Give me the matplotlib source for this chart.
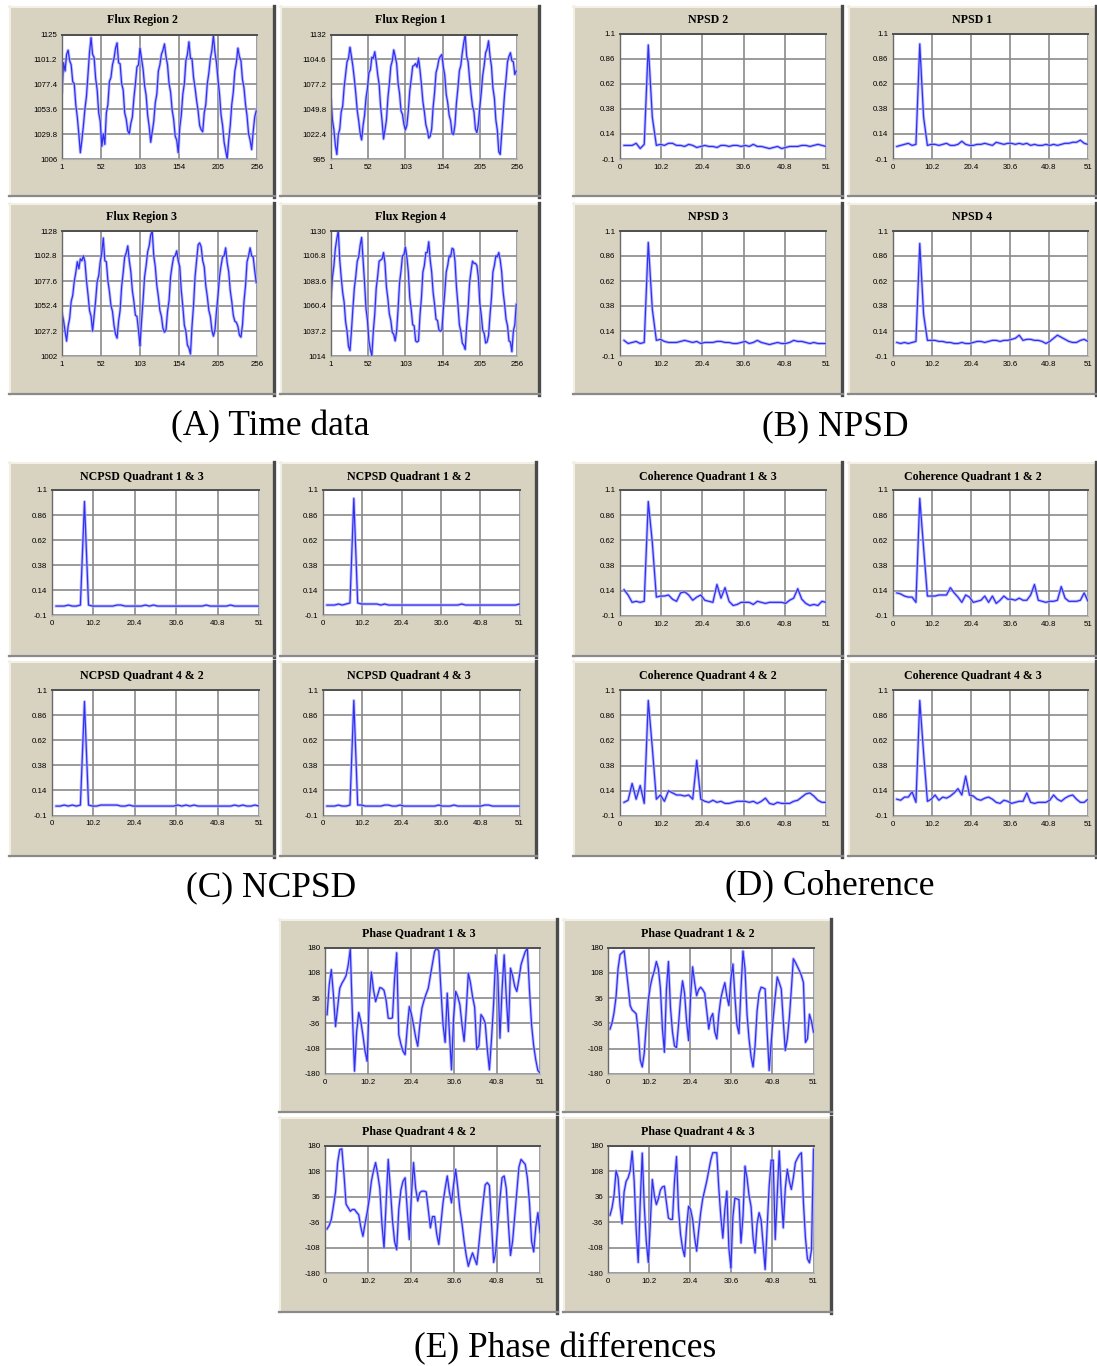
import numpy as np
import matplotlib
matplotlib.use('Agg')
import matplotlib.pyplot as plt
from matplotlib.patches import Rectangle
from matplotlib.lines import Line2D

# ---------------- DATA ----------------
time_xticks = [1, 52, 103, 154, 205, 256]
spec_xticks = [0, 10.2, 20.4, 30.6, 40.8, 51]
spec_xlabels = ['0', '10.2', '20.4', '30.6', '40.8', '51']
spec_yticks = [-0.1, 0.14, 0.38, 0.62, 0.86, 1.1]
spec_ylabels = ['-0.1', '0.14', '0.38', '0.62', '0.86', '1.1']
phase_yticks = [-180, -108, -36, 36, 108, 180]
phase_ylabels = ['-180', '-108', '-36', '36', '108', '180']

flux2_yticks = [1006, 1029.8, 1053.6, 1077.4, 1101.2, 1125]
flux1_yticks = [995, 1022.4, 1049.8, 1077.2, 1104.6, 1132]
flux3_yticks = [1002, 1027.2, 1052.4, 1077.6, 1102.8, 1128]
flux4_yticks = [1014, 1037.2, 1060.4, 1083.6, 1106.8, 1130]

flux2 = [1070, 1098, 1090, 1106, 1110, 1100, 1096, 1080, 1078, 1058, 1046, 1030, 1012, 1024, 1038, 1054,
         1066, 1087, 1108, 1122, 1106, 1103, 1083, 1072, 1050, 1042, 1018, 1030, 1020, 1050, 1058, 1080,
         1084, 1096, 1102, 1112, 1117, 1098, 1097, 1078, 1072, 1050, 1044, 1033, 1030, 1040, 1046, 1064,
         1078, 1094, 1096, 1112, 1102, 1092, 1076, 1067, 1048, 1037, 1022, 1032, 1042, 1060, 1068, 1090,
         1096, 1106, 1110, 1116, 1104, 1096, 1078, 1070, 1053, 1044, 1028, 1024, 1012, 1036, 1048, 1068,
         1078, 1100, 1106, 1118, 1102, 1102, 1084, 1074, 1062, 1052, 1038, 1034, 1032, 1050, 1058, 1078,
         1088, 1102, 1110, 1124, 1108, 1098, 1082, 1068, 1048, 1038, 1022, 1014, 1006, 1024, 1038, 1058,
         1070, 1090, 1098, 1112, 1104, 1100, 1082, 1074, 1058, 1047, 1030, 1024, 1015, 1032, 1046, 1052]

flux1 = [1060, 1038, 1027, 1010, 1000, 1022, 1028, 1047, 1053, 1074, 1088, 1102, 1106, 1118, 1108, 1097,
         1083, 1067, 1048, 1037, 1023, 1016, 1032, 1043, 1062, 1073, 1090, 1093, 1107, 1106, 1113, 1102,
         1088, 1077, 1053, 1037, 1017, 1027, 1038, 1062, 1078, 1097, 1103, 1115, 1108, 1100, 1078, 1067,
         1048, 1044, 1033, 1027, 1032, 1048, 1070, 1083, 1097, 1098, 1100, 1096, 1106, 1093, 1077, 1058,
         1047, 1033, 1027, 1018, 1020, 1028, 1052, 1068, 1090, 1096, 1105, 1108, 1110, 1096, 1087, 1066,
         1057, 1043, 1037, 1023, 1022, 1033, 1057, 1073, 1092, 1098, 1112, 1123, 1132, 1108, 1102, 1083,
         1067, 1053, 1047, 1028, 1024, 1033, 1052, 1068, 1087, 1098, 1112, 1116, 1125, 1108, 1097, 1073,
         1062, 1038, 1027, 1003, 1000, 1022, 1043, 1067, 1083, 1102, 1108, 1112, 1103, 1102, 1088, 1092]

flux3 = [1045, 1038, 1027, 1017, 1032, 1040, 1057, 1063, 1077, 1086, 1097, 1090, 1100, 1098, 1103, 1097,
         1078, 1064, 1048, 1042, 1027, 1042, 1058, 1077, 1083, 1097, 1106, 1121, 1098, 1097, 1078, 1067,
         1053, 1047, 1033, 1024, 1020, 1037, 1048, 1072, 1086, 1102, 1106, 1113, 1098, 1087, 1068, 1057,
         1043, 1042, 1028, 1012, 1037, 1058, 1082, 1093, 1107, 1113, 1124, 1128, 1103, 1092, 1073, 1062,
         1048, 1042, 1030, 1026, 1028, 1047, 1058, 1082, 1093, 1102, 1103, 1108, 1098, 1092, 1068, 1052,
         1033, 1027, 1013, 1010, 1004, 1032, 1053, 1082, 1098, 1114, 1116, 1112, 1098, 1092, 1073, 1062,
         1048, 1042, 1028, 1022, 1028, 1047, 1063, 1082, 1093, 1102, 1103, 1111, 1096, 1087, 1068, 1057,
         1043, 1037, 1036, 1032, 1023, 1021, 1033, 1057, 1073, 1097, 1103, 1111, 1103, 1102, 1088, 1076]

flux4 = [1068, 1087, 1098, 1114, 1123, 1130, 1103, 1087, 1073, 1064, 1046, 1037, 1023, 1019, 1037, 1058,
         1077, 1088, 1102, 1106, 1117, 1124, 1103, 1082, 1058, 1047, 1028, 1020, 1014, 1037, 1053, 1077,
         1088, 1102, 1103, 1104, 1110, 1100, 1078, 1067, 1053, 1047, 1036, 1034, 1028, 1037, 1058, 1082,
         1093, 1107, 1108, 1115, 1106, 1092, 1068, 1057, 1043, 1042, 1028, 1027, 1028, 1052, 1068, 1092,
         1098, 1110, 1110, 1120, 1103, 1092, 1073, 1062, 1048, 1047, 1038, 1037, 1038, 1057, 1073, 1092,
         1098, 1107, 1106, 1114, 1113, 1102, 1078, 1062, 1043, 1037, 1026, 1024, 1020, 1042, 1058, 1082,
         1093, 1102, 1100, 1100, 1098, 1087, 1063, 1052, 1038, 1035, 1026, 1027, 1033, 1052, 1068, 1092,
         1098, 1107, 1106, 1110, 1103, 1092, 1073, 1062, 1048, 1042, 1028, 1027, 1018, 1037, 1043, 1062]

npsd2 = [0.03, 0.03, 0.03, 0.05, 0.0, 0.04, 0.99, 0.3, 0.03, 0.04, 0.03, 0.05, 0.05, 0.03, 0.03, 0.02, 0.04,
         0.03, 0.01, 0.02, 0.03, 0.02, 0.02, 0.01, 0.03, 0.03, 0.02, 0.03, 0.03, 0.02, 0.03, 0.02, 0.04, 0.02,
         0.02, 0.01, 0.0, 0.01, 0.02, 0.0, 0.01, 0.02, 0.02, 0.02, 0.03, 0.03, 0.02, 0.03, 0.04, 0.03, 0.02]
npsd1 = [0.02, 0.03, 0.04, 0.05, 0.03, 0.04, 1.0, 0.3, 0.03, 0.04, 0.04, 0.03, 0.04, 0.05, 0.03, 0.03, 0.04,
         0.07, 0.04, 0.03, 0.03, 0.04, 0.04, 0.05, 0.04, 0.03, 0.06, 0.05, 0.04, 0.05, 0.05, 0.04, 0.05, 0.04,
         0.05, 0.03, 0.04, 0.03, 0.03, 0.04, 0.03, 0.04, 0.03, 0.04, 0.05, 0.05, 0.06, 0.06, 0.08, 0.05, 0.04]
npsd3 = [0.05, 0.02, 0.03, 0.04, 0.02, 0.03, 0.99, 0.35, 0.05, 0.06, 0.04, 0.03, 0.03, 0.03, 0.04, 0.05, 0.04,
         0.03, 0.04, 0.02, 0.03, 0.03, 0.03, 0.04, 0.04, 0.03, 0.03, 0.02, 0.02, 0.03, 0.04, 0.02, 0.03, 0.05,
         0.03, 0.02, 0.01, 0.02, 0.03, 0.02, 0.02, 0.03, 0.05, 0.04, 0.04, 0.03, 0.02, 0.03, 0.02, 0.02, 0.02]
npsd4 = [0.03, 0.02, 0.03, 0.02, 0.03, 0.04, 0.98, 0.3, 0.05, 0.05, 0.05, 0.04, 0.04, 0.03, 0.03, 0.02, 0.02,
         0.03, 0.02, 0.02, 0.03, 0.04, 0.04, 0.03, 0.04, 0.05, 0.05, 0.04, 0.05, 0.05, 0.06, 0.07, 0.1, 0.05,
         0.06, 0.06, 0.05, 0.05, 0.04, 0.02, 0.04, 0.07, 0.1, 0.08, 0.06, 0.04, 0.03, 0.03, 0.05, 0.06, 0.04]

ncpsd13 = [-0.01, -0.01, -0.01, 0.0, -0.01, -0.01, 0.0, 0.99, 0.0, -0.01, -0.01, -0.01, -0.01, -0.01, -0.01,
           0.0, 0.0, -0.01, -0.01, -0.01, -0.01, -0.01, 0.0, -0.01, 0.0, -0.01, -0.01, -0.01, -0.01, -0.01,
           -0.01, -0.01, -0.01, -0.01, -0.01, -0.01, -0.01, 0.0, -0.01, -0.01, -0.01, -0.01, -0.01, 0.0, -0.01,
           -0.01, -0.01, -0.01, -0.01, -0.01, -0.01]
ncpsd12 = [0.0, 0.0, 0.0, 0.01, 0.0, 0.01, 0.02, 1.02, 0.02, 0.01, 0.01, 0.01, 0.01, 0.01, 0.0, 0.01, 0.0,
           0.0, 0.0, 0.0, 0.0, 0.0, 0.0, 0.0, 0.0, 0.0, 0.0, 0.0, 0.0, 0.0, 0.0, 0.0, 0.0, 0.0, 0.0, 0.01, 0.0,
           0.0, 0.0, 0.0, 0.0, 0.0, 0.0, 0.0, 0.0, 0.0, 0.0, 0.0, 0.0, 0.0, 0.01]
ncpsd42 = [-0.01, -0.01, 0.0, -0.01, 0.0, -0.01, 0.0, 0.99, 0.0, -0.01, -0.01, 0.0, 0.0, 0.0, 0.0, 0.0,
           -0.01, -0.01, 0.0, -0.01, -0.01, -0.01, -0.01, -0.01, -0.01, -0.01, -0.01, -0.01, -0.01, -0.01,
           0.0, -0.01, 0.0, -0.01, 0.0, -0.01, -0.01, -0.01, -0.01, -0.01, -0.01, -0.01, -0.01, -0.01, 0.0,
           -0.01, 0.0, -0.01, -0.01, 0.0, -0.01]
ncpsd43 = [-0.01, -0.01, -0.01, 0.0, -0.01, -0.01, 0.0, 1.0, 0.0, 0.0, -0.01, -0.01, -0.01, -0.01, -0.01,
           0.0, 0.0, -0.01, -0.01, 0.0, -0.01, -0.01, -0.01, -0.01, -0.01, -0.01, -0.01, -0.01, -0.01, 0.0,
           -0.01, -0.01, -0.01, 0.0, -0.01, -0.01, -0.01, -0.01, -0.01, -0.01, -0.01, 0.0, 0.0, -0.01, -0.01,
           -0.01, -0.01, -0.01, -0.01, -0.01, -0.01]

coh13 = [0.15, 0.1, 0.03, 0.04, 0.03, 0.04, 0.99, 0.6, 0.08, 0.09, 0.09, 0.1, 0.06, 0.04, 0.12, 0.13, 0.1,
         0.05, 0.08, 0.1, 0.05, 0.04, 0.03, 0.2, 0.07, 0.17, 0.04, 0.0, 0.01, 0.03, 0.03, 0.03, 0.01, 0.04,
         0.03, 0.02, 0.03, 0.03, 0.03, 0.03, 0.02, 0.05, 0.07, 0.16, 0.06, 0.02, 0.0, 0.01, 0.0, 0.04, 0.03]
coh12 = [0.12, 0.11, 0.09, 0.08, 0.08, 0.03, 1.02, 0.55, 0.09, 0.09, 0.09, 0.1, 0.1, 0.1, 0.17, 0.12, 0.08,
         0.03, 0.1, 0.08, 0.03, 0.04, 0.05, 0.09, 0.03, 0.09, 0.02, 0.05, 0.09, 0.06, 0.06, 0.05, 0.07, 0.05,
         0.05, 0.1, 0.2, 0.05, 0.04, 0.03, 0.04, 0.04, 0.05, 0.18, 0.07, 0.04, 0.04, 0.04, 0.05, 0.12, 0.04]
coh42 = [0.03, 0.05, 0.21, 0.06, 0.19, 0.02, 1.0, 0.55, 0.06, 0.1, 0.04, 0.14, 0.12, 0.1, 0.1, 0.09, 0.1,
         0.06, 0.43, 0.06, 0.04, 0.03, 0.05, 0.03, 0.04, 0.02, 0.02, 0.03, 0.04, 0.04, 0.04, 0.03, 0.04, 0.02,
         0.04, 0.07, 0.02, 0.01, 0.03, 0.02, 0.02, 0.02, 0.04, 0.05, 0.08, 0.11, 0.12, 0.09, 0.05, 0.03, 0.03]
coh43 = [0.06, 0.05, 0.08, 0.08, 0.13, 0.03, 1.0, 0.5, 0.04, 0.06, 0.1, 0.05, 0.08, 0.07, 0.09, 0.12, 0.16,
         0.1, 0.28, 0.1, 0.09, 0.06, 0.05, 0.07, 0.08, 0.06, 0.03, 0.02, 0.05, 0.04, 0.02, 0.03, 0.04, 0.04,
         0.12, 0.03, 0.02, 0.03, 0.03, 0.03, 0.05, 0.1, 0.06, 0.04, 0.07, 0.09, 0.1, 0.06, 0.03, 0.03, 0.06]

phase13 = [-11, 74, 117, 45, -45, 10, 64, 78, 88, 100,
           130, 175, -10, -172, -60, -5, -30, -70, -115, -144,
           30, 110, 60, 26, 45, 66, 64, 58, 30, -21,
           -22, -20, 90, 165, -68, -95, -115, -125, -50, 12,
           -10, -40, -75, -101, -40, 8, 30, 48, 64, 100,
           135, 169, 178, 170, 60, -40, -90, 50, -60, -168,
           -20, 55, 40, 17, -40, -87, 0, 107, 80, 40,
           10, -110, -100, -11, -20, -35, -110, -168, -80, 20,
           159, 100, -78, 60, 159, 40, -59, 121, 100, 70,
           55, 90, 131, 150, 168, 178, 60, -40, -100, -140,
           -170, -177]
phase12 = [-52, -35, -5, 40, 120, 160, 165, 171, 120, 70,
           15, 2, -3, -9, -60, -140, -160, -120, -40, 30,
           70, 95, 114, 140, 120, 65, -50, -118, 60, 140,
           10, -60, -100, -105, -40, 34, 85, 50, -30, -85,
           40, 125, 80, 43, 60, 67, 60, 50, 0, -52,
           -20, -8, -60, -80, -10, 35, 60, 80, 40, 15,
           90, 133, 40, -40, -65, 60, 170, 120, -10, -80,
           -130, -160, -100, 0, 50, 67, 65, 62, -60, -170,
           -90, -20, 40, 96, 80, 62, -30, -113, -80, -20,
           60, 148, 138, 126, 114, 100, 80, -90, -80, -10,
           -30, -61]
phase42 = [-55, -45, -28, 10, 50, 133, 170, 172, 100, 15,
           5, -5, 0, 0, -8, -15, -50, -76, -40, -9,
           30, 80, 110, 133, 100, 60, -40, -109, 20, 142,
           60, -30, -90, -114, 0, 55, 80, 90, 0, -85,
           40, 133, 60, 24, 48, 52, 52, 50, 0, -52,
           -20, -20, -70, -99, -40, 20, 60, 95, 50, 19,
           70, 114, 60, 0, -40, -90, -130, -161, -140, -123,
           -140, -156, -100, -38, 20, 70, 76, 68, -40, -150,
           -120, -40, 30, 90, 95, 60, -40, -130, -90, -20,
           50, 120, 142, 135, 128, 90, 20, -90, -120, -50,
           -9, -66]
phase43 = [-16, 5, 40, 110, 90, 10, -40, 50, 80, 90,
           110, 165, 80, -60, -150, 20, 160, 10, -90, -150,
           -40, 85, 40, 14, 30, 55, 64, 66, 20, -24,
           -28, -28, 80, 150, 0, -70, -110, -133, -50, 9,
           0, -28, -80, -118, -60, -9, 30, 55, 80, 110,
           140, 161, 161, 161, 60, -20, -81, 0, 52, -110,
           -166, -20, 33, 30, 28, -95, -20, 123, 90, 40,
           9, -80, -123, -40, -9, -30, -100, -170, -50, 66,
           140, 140, -85, 40, 166, 40, -52, 60, 114, 80,
           57, 90, 133, 145, 155, 161, 20, -80, -140, -151,
           -114, 171]

# ---------------- LAYOUT / STYLE ----------------
W, H = 1097, 1366
fig = plt.figure(figsize=(W / 100, H / 100), dpi=100)
fig.patch.set_facecolor('white')

BEIGE = '#d8d2c0'
LINE = '#3030f2'
HALO = '#b0b0ff'
GRID = '#8a8a8a'
SERIF = ['Liberation Serif', 'DejaVu Serif']
SANS = ['Liberation Sans', 'DejaVu Sans']


def fx(x):
    return x / W


def fy(y):
    return 1 - y / H


def frame(x0, y0, x1, y1):
    tf = fig.transFigure
    fig.add_artist(Rectangle((fx(x0), fy(y1)), fx(x1) - fx(x0), fy(y0) - fy(y1),
                             transform=tf, facecolor=BEIGE, edgecolor='none', zorder=-3))
    fig.add_artist(Line2D([fx(x0 + 0.5), fx(x0 + 0.5)], [fy(y1), fy(y0)], color='#f3efe4',
                          lw=1.5, transform=tf, zorder=-2))
    fig.add_artist(Line2D([fx(x0), fx(x1)], [fy(y0 + 0.5), fy(y0 + 0.5)], color='#f3efe4',
                          lw=1.5, transform=tf, zorder=-2))
    fig.add_artist(Line2D([fx(x1 - 1.5), fx(x1 - 1.5)], [fy(y1), fy(y0)], color='#4a4a4a',
                          lw=2.4, transform=tf, zorder=-2))
    fig.add_artist(Line2D([fx(x0), fx(x1)], [fy(y1 - 1), fy(y1 - 1)], color='#8a8a8a',
                          lw=1.6, transform=tf, zorder=-2))


def panel(fr, pa, title, x, y, xlim, xticks, xlabels, ylim, yticks, ylabels):
    x0, y0, x1, y1 = fr
    frame(x0, y0, x1, y1)
    fig.text(fx((x0 + x1) / 2), fy(y0 + 14), title, ha='center', va='center',
             fontsize=8.6, fontweight='bold', family=SERIF)
    px0, py0, px1, py1 = pa
    ax = fig.add_axes([fx(px0), fy(py1), fx(px1) - fx(px0), fy(py0) - fy(py1)])
    ax.set_zorder(1)
    ax.set_facecolor('white')
    ax.plot(x, y, color=HALO, lw=2.2, solid_joinstyle='round', alpha=0.8)
    ax.plot(x, y, color=LINE, lw=0.9, solid_joinstyle='round')
    ax.set_xlim(*xlim)
    ax.set_ylim(*ylim)
    ax.set_xticks(xticks)
    ax.set_xticklabels(xlabels)
    ax.set_yticks(yticks)
    ax.set_yticklabels(ylabels)
    ax.tick_params(length=0, labelsize=5.7, pad=3.5)
    for lab in ax.get_xticklabels() + ax.get_yticklabels():
        lab.set_family(SANS)
    ax.grid(True, color=GRID, lw=1.2)
    ax.set_axisbelow(True)
    ax.spines['top'].set_color('#505050')
    ax.spines['top'].set_linewidth(1.4)
    ax.spines['left'].set_color('#6a6a6a')
    ax.spines['left'].set_linewidth(1.0)
    ax.spines['bottom'].set_color('#b0b0b0')
    ax.spines['right'].set_color('#c8c8c8')
    return ax


def tx(vals):
    return 1 + 2 * np.arange(len(vals))


def sx(vals):
    return np.arange(1, len(vals) + 1)


def phx(vals):
    return 0.5 * np.arange(1, len(vals) + 1)


tlab = [str(v) for v in time_xticks]


def flab(ticks):
    return [('%g' % v) for v in ticks]


# Group A: time data
panel((9, 6, 275, 197), (62, 34.5, 257, 159), 'Flux Region 2', tx(flux2), flux2,
      (1, 256), time_xticks, tlab, (1006, 1125), flux2_yticks, flab(flux2_yticks))
panel((280, 6, 540, 197), (331, 34.5, 517, 159), 'Flux Region 1', tx(flux1), flux1,
      (1, 256), time_xticks, tlab, (995, 1132), flux1_yticks, flab(flux1_yticks))
panel((9, 203, 275, 395), (62, 231, 257, 356), 'Flux Region 3', tx(flux3), flux3,
      (1, 256), time_xticks, tlab, (1002, 1128), flux3_yticks, flab(flux3_yticks))
panel((280, 203, 540, 395), (331, 231, 517, 356), 'Flux Region 4', tx(flux4), flux4,
      (1, 256), time_xticks, tlab, (1014, 1130), flux4_yticks, flab(flux4_yticks))

# Group B: NPSD
spec = dict(xlim=(0, 51), xticks=spec_xticks, xlabels=spec_xlabels,
            ylim=(-0.1, 1.1), yticks=spec_yticks, ylabels=spec_ylabels)
panel((573, 6, 843, 197), (620, 33.5, 826, 159), 'NPSD 2', sx(npsd2), npsd2, **spec)
panel((848, 6, 1097, 197), (893, 33.5, 1088, 159), 'NPSD 1', sx(npsd1), npsd1, **spec)
panel((573, 203, 843, 395), (620, 231, 826, 356), 'NPSD 3', sx(npsd3), npsd3, **spec)
panel((848, 203, 1097, 395), (893, 231, 1088, 356), 'NPSD 4', sx(npsd4), npsd4, **spec)

# Group C: NCPSD
panel((9, 462, 275, 657), (52, 490, 259, 615.5), 'NCPSD Quadrant 1 & 3', sx(ncpsd13), ncpsd13, **spec)
panel((280, 462, 537, 657), (323, 490, 519.5, 615.5), 'NCPSD Quadrant 1 & 2', sx(ncpsd12), ncpsd12, **spec)
panel((9, 661, 275, 857), (52, 690, 259, 815.5), 'NCPSD Quadrant 4 & 2', sx(ncpsd42), ncpsd42, **spec)
panel((280, 661, 537, 857), (323, 690, 519.5, 815.5), 'NCPSD Quadrant 4 & 3', sx(ncpsd43), ncpsd43, **spec)

# Group D: Coherence
panel((573, 462, 843, 657), (620, 490, 826, 616), 'Coherence Quadrant 1 & 3', sx(coh13), coh13, **spec)
panel((848, 462, 1097, 657), (893, 490, 1088, 616), 'Coherence Quadrant 1 & 2', sx(coh12), coh12, **spec)
panel((573, 661, 843, 857), (620, 690, 826, 816), 'Coherence Quadrant 4 & 2', sx(coh42), coh42, **spec)
panel((848, 661, 1097, 857), (893, 690, 1088, 816), 'Coherence Quadrant 4 & 3', sx(coh43), coh43, **spec)

# Group E: Phase
phs = dict(xlim=(0, 51), xticks=spec_xticks, xlabels=spec_xlabels,
           ylim=(-180, 180), yticks=phase_yticks, ylabels=phase_ylabels)
panel((279, 919, 558, 1113), (325, 947.5, 540, 1074), 'Phase Quadrant 1 & 3', phx(phase13), phase13, **phs)
panel((563, 919, 832, 1113), (608, 947.5, 813.5, 1074), 'Phase Quadrant 1 & 2', phx(phase12), phase12, **phs)
panel((279, 1117, 558, 1313), (325, 1146, 540, 1273), 'Phase Quadrant 4 & 2', phx(phase42), phase42, **phs)
panel((563, 1117, 832, 1313), (608, 1146, 813.5, 1273), 'Phase Quadrant 4 & 3', phx(phase43), phase43, **phs)

# Group captions
for cx, cy, txt in [(270, 427, '(A) Time data'), (835, 427, '(B) NPSD'),
                    (271, 888, '(C) NCPSD'), (830, 886, '(D) Coherence'),
                    (565, 1349, '(E) Phase differences')]:
    fig.text(fx(cx), fy(cy), txt, ha='center', va='center', fontsize=25.5, family=SERIF)

fig.savefig('out.png', dpi=100, facecolor='white')
